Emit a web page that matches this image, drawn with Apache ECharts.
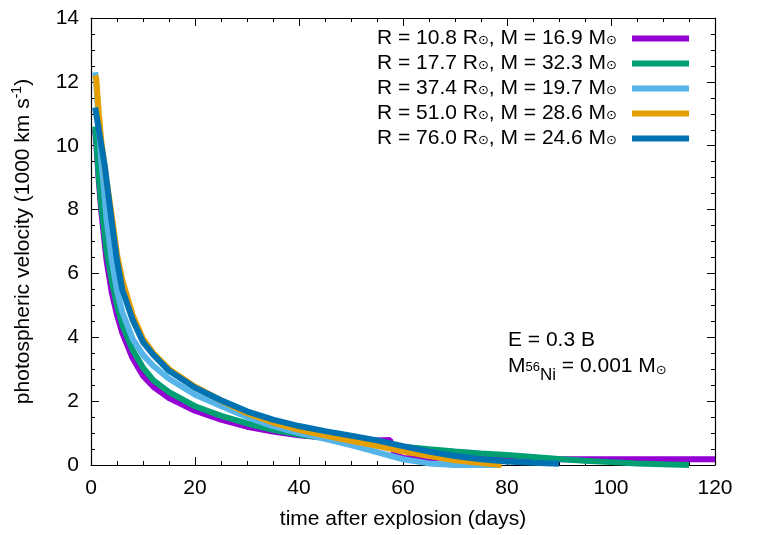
<!DOCTYPE html>
<html>
<head>
<meta charset="utf-8">
<script src="https://cdn.jsdelivr.net/npm/echarts@6/dist/echarts.min.js"></script>
<style>
  html, body { margin: 0; padding: 0; background: #fff; }
  #chart { width: 764px; height: 535px; }
</style>
</head>
<body>
<div id="chart"></div>
<script>
// series names (legend)
const names = [
  "R = 10.8 R⊙, M = 16.9 M⊙",
  "R = 17.7 R⊙, M = 32.3 M⊙",
  "R = 37.4 R⊙, M = 19.7 M⊙",
  "R = 51.0 R⊙, M = 28.6 M⊙",
  "R = 76.0 R⊙, M = 24.6 M⊙"
];
const colors = ["#9400d3", "#009e73", "#56b4e9", "#e69f00", "#0072b2"];

// days after explosion / velocity (1000 km/s)
const tPurple = [0.8, 1, 1.5, 2, 3, 4, 5, 6, 8, 10, 12, 15, 20, 25, 30, 35, 40, 45, 50, 55, 57.5, 58.5, 60, 70, 80, 90, 100, 110, 120];
const vPurple = [10.5, 10.1, 8.9, 7.9, 6.4, 5.4, 4.7, 4.15, 3.35, 2.8, 2.45, 2.1, 1.7, 1.42, 1.2, 1.05, 0.93, 0.86, 0.8, 0.77, 0.78, 0.3, 0.22, 0.21, 0.19, 0.18, 0.18, 0.18, 0.18];

const tGreen = [0.8, 1, 1.5, 2, 3, 4, 5, 6, 8, 10, 12, 15, 20, 25, 30, 35, 40, 45, 50, 55, 60, 65, 70, 75, 80, 85, 90, 95, 100, 105, 110, 115];
const vGreen = [10.6, 10.2, 9.0, 8.1, 6.7, 5.75, 5.0, 4.4, 3.6, 3.05, 2.65, 2.28, 1.84, 1.54, 1.3, 1.1, 0.95, 0.85, 0.76, 0.66, 0.57, 0.49, 0.42, 0.36, 0.31, 0.25, 0.19, 0.13, 0.09, 0.05, 0.02, 0.0];

const tLightBlue = [0.8, 1, 1.5, 2, 3, 4, 5, 6, 8, 10, 12, 15, 20, 25, 30, 35, 40, 45, 50, 55, 60, 65, 70, 78.5];
const vLightBlue = [12.3, 12.0, 10.7, 9.5, 7.7, 6.4, 5.45, 4.8, 3.95, 3.45, 3.1, 2.7, 2.2, 1.85, 1.5, 1.22, 1.0, 0.82, 0.62, 0.4, 0.18, 0.05, 0.0, 0.0];

const tOrange = [0.8, 1, 1.5, 2, 2.7, 3, 4, 5, 6, 8, 10, 12, 15, 20, 25, 30, 35, 40, 45, 50, 55, 60, 65, 70, 75, 79];
const vOrange = [12.2, 12.1, 11.0, 10.1, 9.3, 8.9, 7.8, 6.6, 5.8, 4.7, 3.95, 3.5, 3.0, 2.45, 2.02, 1.62, 1.33, 1.1, 0.92, 0.76, 0.6, 0.43, 0.28, 0.15, 0.06, 0.0];

const tBlue = [0.8, 1, 1.5, 2, 2.7, 3, 4, 5, 6, 8, 10, 12, 15, 20, 25, 30, 35, 40, 45, 50, 55, 60, 65, 70, 75, 80, 85, 90];
const vBlue = [11.2, 11.0, 10.5, 10.0, 9.3, 8.9, 7.6, 6.4, 5.5, 4.55, 3.85, 3.45, 2.95, 2.42, 2.03, 1.68, 1.42, 1.22, 1.06, 0.92, 0.77, 0.59, 0.42, 0.28, 0.18, 0.11, 0.07, 0.04];

const xTicks = [0, 20, 40, 60, 80, 100, 120];
const yTicks = [0, 2, 4, 6, 8, 10, 12, 14];

const allT = [tPurple, tGreen, tLightBlue, tOrange, tBlue];
const allV = [vPurple, vGreen, vLightBlue, vOrange, vBlue];

const font = "'Liberation Sans', Arial, sans-serif";
const symFont = "'DejaVu Sans', sans-serif";
const fs = 21;

let chart = echarts.init(document.getElementById("chart"));

const tickStyle = { color: "#000", width: 1 };

function xAxisCfg(pos, showLabel) {
  return {
    type: "value",
    position: pos,
    min: xTicks[0],
    max: xTicks[xTicks.length - 1],
    interval: 20,
    axisLine: { show: true, onZero: false, lineStyle: { color: "#000", width: 1.2 } },
    axisTick: { show: true, inside: true, length: 8, lineStyle: tickStyle },
    minorTick: { show: true, splitNumber: 4, length: 4, lineStyle: tickStyle },
    splitLine: { show: false },
    axisLabel: { show: showLabel, color: "#000", fontSize: fs, fontFamily: font, margin: 13 },
  };
}

function yAxisCfg(pos, showLabel) {
  return {
    type: "value",
    position: pos,
    min: yTicks[0],
    max: yTicks[yTicks.length - 1],
    interval: 2,
    axisLine: { show: true, onZero: false, lineStyle: { color: "#000", width: 1.2 } },
    axisTick: { show: true, inside: true, length: 8, lineStyle: tickStyle },
    minorTick: { show: true, splitNumber: 4, length: 4, lineStyle: tickStyle },
    splitLine: { show: false },
    axisLabel: { show: showLabel, color: "#000", fontSize: fs, fontFamily: font, margin: 12 },
  };
}

let xMain = xAxisCfg("bottom", true);
xMain.name = "time after explosion (days)";
xMain.nameLocation = "middle";
xMain.nameGap = 44;
xMain.nameTextStyle = { color: "#000", fontSize: fs, fontFamily: font };

let yMain = yAxisCfg("left", true);
yMain.name = "{a|photospheric velocity (1000 km s}{sup|-1}{a|)}";
yMain.nameLocation = "middle";
yMain.nameGap = 57;
yMain.nameTextStyle = {
  color: "#000",
  fontSize: fs,
  fontFamily: font,
  rich: {
    a: { fontSize: fs, fontFamily: font, color: "#000", lineHeight: 24, verticalAlign: "bottom" },
    sup: { fontSize: 14, fontFamily: font, color: "#000", lineHeight: 24, verticalAlign: "top" },
  },
};

let series = names.map((n, i) => ({
  name: n,
  type: "line",
  data: allT[i].map((t, k) => [t, allV[i][k]]),
  showSymbol: false,
  symbol: "none",
  clip: true,
  lineStyle: { color: colors[i], width: 6 },
  itemStyle: { color: colors[i] },
  xAxisIndex: 0,
  yAxisIndex: 0,
  z: 2 + i,
}));

let options = {
  animation: false,
  backgroundColor: "#fff",
  grid: { left: 91, right: 49, top: 18, bottom: 69, containLabel: false },
  xAxis: [xMain, xAxisCfg("top", false)],
  yAxis: [yMain, yAxisCfg("right", false)],
  legend: {
    orient: "vertical",
    align: "right",
    right: 75,
    top: 28,
    padding: 0,
    itemWidth: 57,
    itemHeight: 6,
    itemGap: 0,
    icon: "rect",
    data: names,
    formatter: (name) => name.replace(/⊙, /, "{s|⊙}, ").replace(/⊙$/, "{e|⊙}"),
    textStyle: {
      color: "#000",
      fontSize: fs,
      fontFamily: font,
      lineHeight: 21,
      rich: {
        s: { fontSize: 13, fontFamily: symFont, color: "#000", lineHeight: 21, height: 25, verticalAlign: "top" },
        e: { fontSize: 13, fontFamily: symFont, color: "#000", lineHeight: 21, height: 25, verticalAlign: "top", padding: [0, 10, 0, 0] },
      },
    },
  },
  graphic: [
    {
      type: "text",
      left: 508,
      top: 330,
      style: {
        text: "{n|E = 0.3 B}",
        fill: "#000",
        rich: { n: { fontSize: fs, fontFamily: font, lineHeight: 22 } },
      },
    },
    {
      type: "text",
      left: 508,
      top: 356,
      style: {
        text: "{n|M}{sup|56}{sub|Ni}{n| = 0.001 M}{s|⊙}",
        fill: "#000",
        rich: {
          n: { fontSize: fs, fontFamily: font, lineHeight: 32, verticalAlign: "top" },
          sup: { fontSize: 13, fontFamily: font, lineHeight: 32, height: 22, verticalAlign: "top" },
          sub: { fontSize: 17, fontFamily: font, lineHeight: 32, height: 38, verticalAlign: "top" },
          s: { fontSize: 13, fontFamily: symFont, lineHeight: 32, height: 30, verticalAlign: "top" },
        },
      },
    },
  ],
  series: series,
};

chart.setOption(options);
</script>
</body>
</html>
